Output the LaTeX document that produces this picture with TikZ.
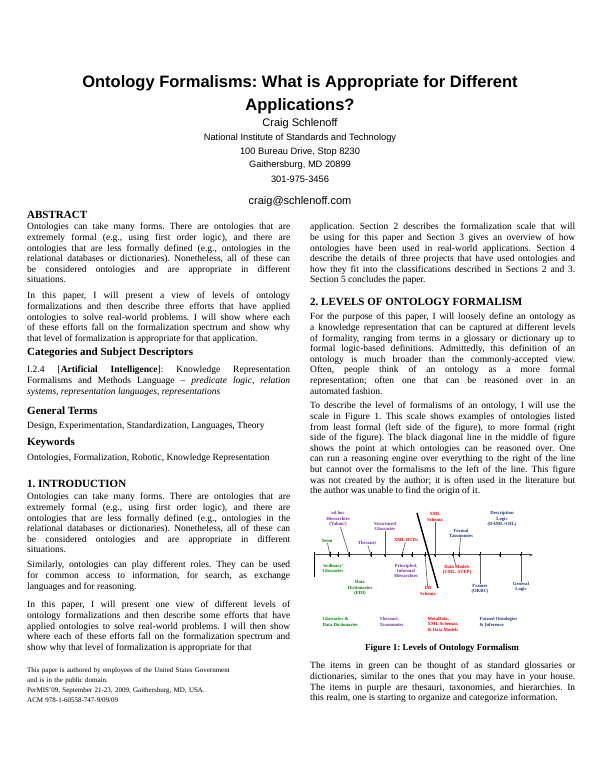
\documentclass[tikz,border=0pt]{standalone}
\usepackage{fontspec}
\setmainfont{Liberation Serif}
\newfontfamily\arialf{Liberation Sans}
\usetikzlibrary{arrows.meta}
\definecolor{fgreen}{RGB}{0,128,0}
\definecolor{fpurple}{RGB}{112,48,160}
\definecolor{fblue}{RGB}{31,56,120}
\frenchspacing
\begin{document}
\begin{tikzpicture}[x=1pt,y=1pt,
 body/.style={anchor=north west,inner sep=0pt,text width=#1,align=justify,font=\fontsize{9.5}{10.6}\selectfont},
 body/.default=263pt,
 head/.style={anchor=west,inner sep=0pt,font=\fontsize{11}{12}\selectfont\bfseries},
 ctr/.style={inner sep=0pt,font=\arialf\fontsize{#1}{#1}\selectfont},
 ttl/.style={inner sep=0pt,font=\arialf\bfseries\fontsize{16.5}{17}\selectfont},
 fl/.style={inner sep=0.5pt,align=center,font=\fontsize{4.7}{5.2}\selectfont\bfseries},
 tick/.style={line width=0.8pt},
 conn/.style={line width=0.6pt,gray!70!black}]
\useasboundingbox (0,0) rectangle (600,776);
\fill[white] (0,0) rectangle (600,776);
% title block
\node[ttl] (t1) at (300,693) {Ontology Formalisms: What is Appropriate for Different};
\node[ttl] (t2) at (300,670) {Applications?};
\node[ctr=11] (a1) at (300,652) {Craig Schlenoff};
\node[ctr=9.3] (a2) at (300,638) {National Institute of Standards and Technology};
\node[ctr=9.3] (a3) at (300,624) {100 Bureau Drive, Stop 8230};
\node[ctr=9.3] (a4) at (300,611) {Gaithersburg, MD 20899};
\node[ctr=9.3] (a5) at (300,597) {301-975-3456};
\node[ctr=11] (a6) at (300,574) {craig@schlenoff.com};
% left column
\node[head] (h1) at (27,561) {ABSTRACT};
\node[body] (p1) at (27,553) {Ontologies can take many forms. There are ontologies that are\linebreak extremely formal (e.g., using first order logic), and there are\linebreak ontologies that are less formally defined (e.g., ontologies in the\linebreak relational databases or dictionaries). Nonetheless, all of these can\linebreak be considered ontologies and are appropriate in different\linebreak situations.};
\node[body] (p2) at (27,484) {In this paper, I will present a view of levels of ontology\linebreak formalizations and then describe three efforts that have applied\linebreak ontologies to solve real-world problems. I will show where each\linebreak of these efforts fall on the formalization spectrum and show why\linebreak that level of formalization is appropriate for that application.};
\node[head] (h2) at (27,423) {Categories and Subject Descriptors};
\node[body] (p3) at (27,410) {I.2.4 [\textbf{Artificial Intelligence}]: Knowledge Representation\linebreak Formalisms and Methods Language -- \textit{predicate logic, relation\linebreak systems, representation languages, representations}};
\node[head] (h3) at (27,365) {General Terms};
\node[body] (p4) at (27,354) {Design, Experimentation, Standardization, Languages, Theory};
\node[head] (h4) at (27,333) {Keywords};
\node[body] (p5) at (27,322) {Ontologies, Formalization, Robotic, Knowledge Representation};
\node[head] (h5) at (27,292) {1. INTRODUCTION};
\node[body] (p6) at (27,283) {Ontologies can take many forms. There are ontologies that are\linebreak extremely formal (e.g., using first order logic), and there are\linebreak ontologies that are less formally defined (e.g., ontologies in the\linebreak relational databases or dictionaries). Nonetheless, all of these can\linebreak be considered ontologies and are appropriate in different\linebreak situations.};
\node[body] (p7) at (27,215) {Similarly, ontologies can play different roles. They can be used\linebreak for common access to information, for search, as exchange\linebreak languages and for reasoning.};
\node[body] (p8) at (27,175) {In this paper, I will present one view of different levels of\linebreak ontology formalizations and then describe some efforts that have\linebreak applied ontologies to solve real-world problems. I will then show\linebreak where each of these efforts fall on the formalization spectrum and\linebreak show why that level of formalization is appropriate for that};
\node[anchor=north west,inner sep=0pt,text width=263pt,font=\fontsize{7}{10}\selectfont] (fn) at (27,109) {This paper is authored by employees of the United States Government\\ and is in the public domain.\\ PerMIS'09, September 21-23, 2009, Gaithersburg, MD, USA.\\ ACM 978-1-60558-747-9/09/09};
% right column
\node[body=265pt] (q1) at (310,553) {application. Section 2 describes the formalization scale that will\linebreak be using for this paper and Section 3 gives an overview of how\linebreak ontologies have been used in real-world applications. Section 4\linebreak describe the details of three projects that have used ontologies and\linebreak how they fit into the classifications described in Sections 2 and 3.\linebreak Section 5 concludes the paper.};
\node[head] (h6) at (310,474) {2. LEVELS OF ONTOLOGY FORMALISM};
\node[body=265pt] (q2) at (310,463) {For the purpose of this paper, I will loosely define an ontology as\linebreak a knowledge representation that can be captured at different levels\linebreak of formality, ranging from terms in a glossary or dictionary up to\linebreak formal logic-based definitions. Admittedly, this definition of an\linebreak ontology is much broader than the commonly-accepted view.\linebreak Often, people think of an ontology as a more formal\linebreak representation; often one that can be reasoned over in an\linebreak automated fashion.};
\node[body=265pt] (q3) at (310,374) {To describe the level of formalisms of an ontology, I will use the\linebreak scale in Figure 1. This scale shows examples of ontologies listed\linebreak from least formal (left side of the figure), to more formal (right\linebreak side of the figure). The black diagonal line in the middle of figure\linebreak shows the point at which ontologies can be reasoned over. One\linebreak can run a reasoning engine over everything to the right of the line\linebreak but cannot over the formalisms to the left of the line. This figure\linebreak was not created by the author; it is often used in the literature but\linebreak the author was unable to find the origin of it.};
\node[inner sep=0pt,font=\fontsize{9}{10}\selectfont\bfseries] (cap) at (442,128) {Figure 1: Levels of Ontology Formalism};
\node[body=265pt] (q4) at (310,114) {The items in green can be thought of as standard glossaries or\linebreak dictionaries, similar to the ones that you may have in your house.\linebreak The items in purple are thesauri, taxonomies, and hierarchies. In\linebreak this realm, one is starting to organize and categorize information.};
% ===== figure =====
\coordinate (ax0) at (314,221);
\coordinate (ax1) at (533,221);
\coordinate (vb0) at (314,224);
\coordinate (vb1) at (314,199);
\draw[line width=1pt,gray!60!black,-{Stealth[length=4pt]}] (ax0) -- (ax1);
\draw[line width=0.8pt] (vb0) -- (vb1);
\foreach \n/\x in {k1/330,k2/338,k3/349,k4/371,k5/385,k6/402,k7/412,k8/425,k9/435,k10/453,k11/459,k12/480,k13/500,k14/521}{
  \coordinate (\n) at (\x,221);
  \draw[tick] (\x,218.5) -- (\x,223.5);
  \fill (\x,221) circle (1.2pt);
}
\coordinate (d0) at (417,263);
\coordinate (d1) at (438,188);
\draw[line width=1.4pt] (d0) -- (d1);
\node[fl,text=fgreen] (term) at (327,235) {Term};
\node[fl,text=fgreen] (ordg) at (333,208) {`ordinary'\\Glossaries};
\node[fl,text=fpurple] (adhoc) at (338,257) {ad hoc\\Hierarchies\\(Yahoo!)};
\node[fl,text=fgreen] (dd) at (360,188) {Data\\Dictionaries\\(EDI)};
\node[fl,text=fpurple] (thes) at (367,233) {Thesauri};
\node[fl,text=fpurple] (sg) at (385,250) {Structured\\Glossaries};
\node[fl,text=red] (xdtd) at (406,236) {XML DTDs};
\node[fl,text=fpurple] (pih) at (406,205) {Principled,\\Informal\\Hierarchies};
\node[fl,text=red] (dbs) at (428,185) {DB\\Schema};
\node[fl,text=red] (xs) at (435,259) {XML\\Schema};
\node[fl,text=fblue] (ft) at (461,243) {Formal\\Taxonomies};
\node[fl,text=red] (dm) at (457,206) {Data Models\\(UML, STEP)};
\node[fl,text=fblue] (dl) at (502,257) {Description\\Logic\\(DAML+OIL)};
\node[fl,text=fblue] (fr) at (480,187) {Frames\\(OKBC)};
\node[fl,text=fblue] (gl) at (521,189) {General\\Logic};
\draw[conn] (term) -- (k1);
\draw[conn] (adhoc) -- (k3);
\draw[conn] (thes) -- (k4);
\draw[conn] (sg) -- (k5);
\draw[conn] (xdtd) -- (k6);
\draw[conn] (dbs) -- (k8);
\draw[conn] (xs) -- (k9);
\draw[conn] (ft) -- (k11);
\draw[conn] (dm) -- (k10);
\draw[conn] (fr) -- (k12);
\draw[conn] (gl) -- (k14);
\node[fl,text=fgreen,align=left,anchor=north west] (b1) at (322,159) {Glossaries \&\\Data Dictionaries};
\node[fl,text=fpurple,align=left,anchor=north west] (b2) at (379,159) {Thesauri,\\Taxonomies};
\node[fl,text=red,align=left,anchor=north west] (b3) at (427,159) {MetaData,\\XML Schemas,\\\& Data Models};
\node[fl,text=fblue,align=left,anchor=north west] (b4) at (479,159) {Formal Ontologies\\\& Inference};
\end{tikzpicture}
\end{document}
